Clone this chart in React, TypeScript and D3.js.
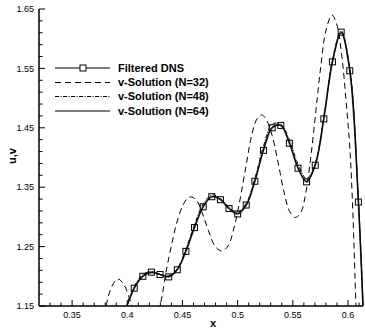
import React from "react";
import * as d3 from "d3";

// ---- data ----
const xGrid = [0.3984, 0.4063, 0.4141, 0.4219, 0.4297, 0.4375, 0.4453, 0.4531, 0.4609, 0.4688, 0.4766, 0.4844, 0.4922, 0.5, 0.5078, 0.5156, 0.5234, 0.5313, 0.5391, 0.5469, 0.5547, 0.5625, 0.5703, 0.5781, 0.5859, 0.5938, 0.6016, 0.6094, 0.6172];
const dnsY = [1.143, 1.180, 1.200, 1.207, 1.203, 1.199, 1.211, 1.242, 1.282, 1.317, 1.334, 1.329, 1.314, 1.305, 1.320, 1.360, 1.412, 1.450, 1.454, 1.424, 1.382, 1.359, 1.387, 1.465, 1.561, 1.611, 1.546, 1.325, 0.97];
const n64Y = [1.143, 1.180, 1.201, 1.206, 1.203, 1.200, 1.211, 1.243, 1.283, 1.318, 1.334, 1.330, 1.314, 1.306, 1.320, 1.361, 1.413, 1.451, 1.454, 1.425, 1.383, 1.360, 1.388, 1.466, 1.561, 1.610, 1.548, 1.328, 0.97];
const n48Y = [1.146, 1.183, 1.203, 1.208, 1.203, 1.201, 1.213, 1.246, 1.287, 1.322, 1.337, 1.331, 1.316, 1.308, 1.323, 1.365, 1.419, 1.456, 1.456, 1.430, 1.389, 1.364, 1.391, 1.470, 1.565, 1.613, 1.552, 1.333, 0.98];
const n32X = [0.3753, 0.3807, 0.3862, 0.3916, 0.3970, 0.4025, 0.4079, 0.4188, 0.4296, 0.4351, 0.4405, 0.4450, 0.4505, 0.4550, 0.4586, 0.4632, 0.4686, 0.4740, 0.4795, 0.4856, 0.4913, 0.4967, 0.5021, 0.5076, 0.5130, 0.5175, 0.5218, 0.5257, 0.5311, 0.5366, 0.5420, 0.5474, 0.5524, 0.5574, 0.5619, 0.5665, 0.5710, 0.5755, 0.5801, 0.5855, 0.5900, 0.5946, 0.5982, 0.6018, 0.6045, 0.6072, 0.6091];
const n32Y = [1.1012, 1.150, 1.1837, 1.1955, 1.1854, 1.1601, 1.1298, 1.0928, 1.150, 1.2072, 1.2561, 1.2914, 1.3200, 1.3318, 1.3335, 1.3268, 1.3032, 1.2746, 1.2510, 1.2426, 1.2510, 1.2813, 1.3285, 1.3857, 1.4396, 1.4648, 1.4716, 1.4648, 1.4379, 1.3924, 1.3419, 1.3082, 1.2990, 1.3082, 1.3419, 1.4042, 1.4800, 1.5557, 1.6146, 1.6399, 1.6231, 1.5675, 1.4968, 1.4126, 1.3032, 1.150, 1.059];

const xMajor = [0.35, 0.4, 0.45, 0.5, 0.55, 0.6];
const xMajorLabels = ["0.35", "0.4", "0.45", "0.5", "0.55", "0.6"];
const xMinor = [0.33, 0.34, 0.36, 0.37, 0.38, 0.39, 0.41, 0.42, 0.43, 0.44, 0.46, 0.47, 0.48, 0.49, 0.51, 0.52, 0.53, 0.54, 0.56, 0.57, 0.58, 0.59, 0.61];
const yMajor = [1.15, 1.25, 1.35, 1.45, 1.55, 1.65];
const yMajorLabels = ["1.15", "1.25", "1.35", "1.45", "1.55", "1.65"];
const yMinor = [1.17, 1.19, 1.21, 1.23, 1.27, 1.29, 1.31, 1.33, 1.37, 1.39, 1.41, 1.43, 1.47, 1.49, 1.51, 1.53, 1.57, 1.59, 1.61, 1.63];
const legendLabels = ["Filtered DNS", "v-Solution (N=32)", "v-Solution (N=48)", "v-Solution (N=64)"];

const W = 365, H = 331;
const L = 39, R = 363, T = 9, B = 306;
const FONT = "'Liberation Sans', Arial, Helvetica, sans-serif";

export default function App() {
  const x = d3.scaleLinear().domain([0.32, 0.6136]).range([L, R]);
  const y = d3.scaleLinear().domain([1.15, 1.65]).range([B, T]);
  const line = d3.line<[number, number]>().x(d => x(d[0])).y(d => y(d[1])).curve(d3.curveCatmullRom.alpha(0.5));
  const dns = xGrid.map((v, i) => [v, dnsY[i]] as [number, number]);
  const n64 = xGrid.map((v, i) => [v, n64Y[i]] as [number, number]);
  const n48 = xGrid.map((v, i) => [v, n48Y[i]] as [number, number]);
  const n32 = n32X.map((v, i) => [v, n32Y[i]] as [number, number]);
  const legendY = [68, 82.5, 96.5, 111];
  const ms = 6;
  return (
    <div style={{ position: "absolute", left: 0, top: 0 }}>
      <svg width={W} height={H} style={{ display: "block", background: "#fff" }}>
        <defs>
          <clipPath id="plot"><rect x={L} y={T} width={R - L + 2} height={B - T} /></clipPath>
        </defs>
        <g clipPath="url(#plot)" fill="none">
          <path d={line(n32) || ""} stroke="#000" strokeWidth={1} strokeDasharray="6 4" />
          <path d={line(n48) || ""} stroke="#000" strokeWidth={1} strokeDasharray="4 1.5 1 1.5" />
          <path d={line(dns) || ""} stroke="#333" strokeWidth={1.6} />
          <path d={line(n64) || ""} stroke="#000" strokeWidth={1} />
          {dns.map((d, i) => (
            <rect key={i} x={x(d[0]) - ms / 2} y={y(d[1]) - ms / 2} width={ms} height={ms} stroke="#000" strokeWidth={1} fill="none" />
          ))}
        </g>
        {/* axes */}
        <line x1={L} x2={L} y1={T} y2={B} stroke="#000" strokeWidth={1.5} />
        <line x1={L} x2={R} y1={B} y2={B} stroke="#000" strokeWidth={1.5} />
        {xMajor.map((v, i) => (
          <g key={"xm" + i}>
            <line x1={x(v)} x2={x(v)} y1={B} y2={B - 6} stroke="#000" strokeWidth={1} />
            <text x={x(v)} y={317.5} textAnchor="middle" fontFamily={FONT} fontSize={9}>{xMajorLabels[i]}</text>
          </g>
        ))}
        {xMinor.map((v, i) => (
          <line key={"xn" + i} x1={x(v)} x2={x(v)} y1={B} y2={B - 3.5} stroke="#000" strokeWidth={1} />
        ))}
        {yMajor.map((v, i) => (
          <g key={"ym" + i}>
            <line x1={L} x2={L + 6} y1={y(v)} y2={y(v)} stroke="#000" strokeWidth={1} />
            <text x={34} y={y(v) + 3.2} textAnchor="end" fontFamily={FONT} fontSize={9}>{yMajorLabels[i]}</text>
          </g>
        ))}
        {yMinor.map((v, i) => (
          <line key={"yn" + i} x1={L} x2={L + 3.5} y1={y(v)} y2={y(v)} stroke="#000" strokeWidth={1} />
        ))}
        <text x={213} y={327} textAnchor="middle" fontFamily={FONT} fontSize={11} fontWeight="bold">x</text>
        <text transform={`translate(16,156) rotate(-90)`} textAnchor="middle" fontFamily={FONT} fontSize={11} fontWeight="bold">u,v</text>
        {/* legend */}
        <g>
          <line x1={55} x2={110} y1={legendY[0]} y2={legendY[0]} stroke="#555" strokeWidth={1.6} />
          <rect x={83 - ms / 2} y={legendY[0] - ms / 2} width={ms} height={ms} fill="#fff" stroke="#000" strokeWidth={1} />
          <line x1={55} x2={110} y1={legendY[1]} y2={legendY[1]} stroke="#000" strokeWidth={1} strokeDasharray="6 4" />
          <line x1={55} x2={110} y1={legendY[2]} y2={legendY[2]} stroke="#000" strokeWidth={1} strokeDasharray="4 1.5 1 1.5" />
          <line x1={55} x2={110} y1={legendY[3]} y2={legendY[3]} stroke="#000" strokeWidth={1} />
          {legendLabels.map((t, i) => (
            <text key={t} x={118} y={legendY[i] + 3.9} fontFamily={FONT} fontSize={11} fontWeight="bold">{t}</text>
          ))}
        </g>
      </svg>
    </div>
  );
}
